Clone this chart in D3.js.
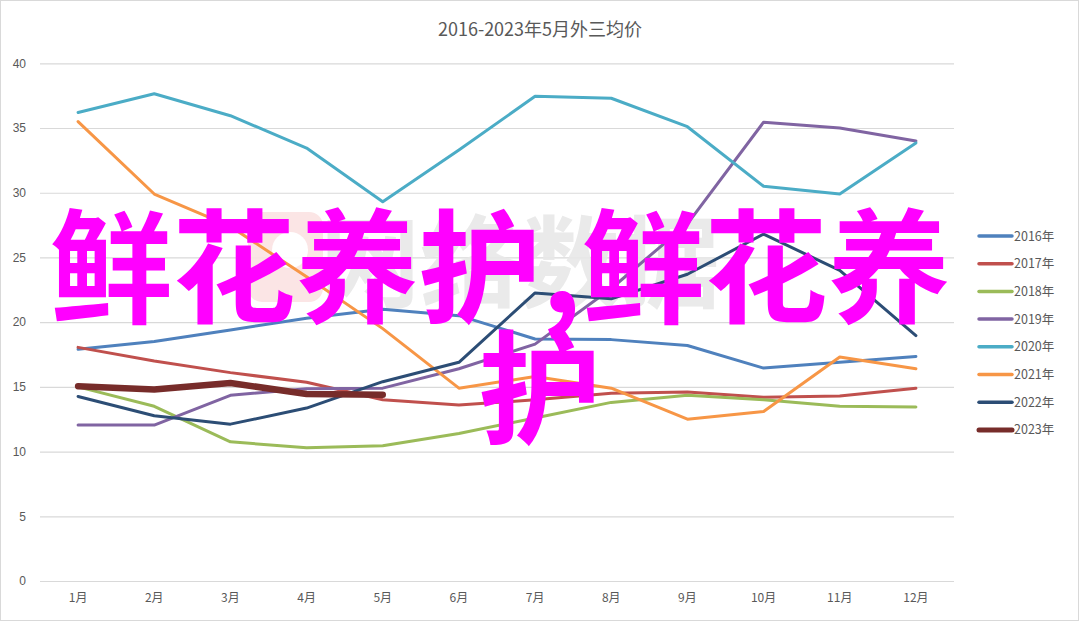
<!DOCTYPE html>
<html><head><meta charset="utf-8">
<script src="https://cdn.jsdelivr.net/npm/d3@7"></script>
<style>html,body{margin:0;padding:0;background:#fff;}svg{display:block;}</style>
</head><body>
<svg id="c" width="1080" height="622"></svg>
<script>
const title = "2016-2023年5月外三均价";
const months = ["1月","2月","3月","4月","5月","6月","7月","8月","9月","10月","11月","12月"];
const yTicks = [0,5,10,15,20,25,30,35,40];
const seriesNames = ["2016年","2017年","2018年","2019年","2020年","2021年","2022年","2023年"];
const colors = ["#4F81BD","#C0504D","#9BBB59","#8064A2","#4BACC6","#F79646","#2C4D75","#772C2A"];
const v2016 = [17.9,18.5,19.4,20.3,21.0,20.5,18.7,18.65,18.2,16.45,16.9,17.35];
const v2017 = [18.05,17.0,16.1,15.35,14.0,13.6,14.0,14.5,14.6,14.2,14.3,14.9];
const v2018 = [15.0,13.5,10.75,10.3,10.45,11.4,12.6,13.8,14.35,14.0,13.5,13.45];
const v2019 = [12.05,12.05,14.35,14.85,14.9,16.4,18.3,22.6,27.6,35.45,35.0,34.0];
const v2020 = [36.2,37.65,35.95,33.45,29.3,33.3,37.45,37.3,35.1,30.5,29.9,33.85];
const v2021 = [35.5,29.9,27.4,23.5,19.5,14.9,15.8,14.9,12.5,13.1,17.3,16.4];
const v2022 = [14.26,12.77,12.12,13.36,15.4,16.9,22.26,21.8,23.7,26.8,24.0,18.96];
const v2023 = [15.05,14.8,15.3,14.45,14.4];
const overlayLines = ["鲜花养护,鲜花养","护"];
const watermark = "网络数据";

const allSeries = [v2016,v2017,v2018,v2019,v2020,v2021,v2022,v2023];
const svg = d3.select("#c");
const font = "'Noto Sans CJK SC','Liberation Sans',sans-serif";

svg.append("rect").attr("x",0.5).attr("y",0.5).attr("width",1078).attr("height",620)
  .attr("fill","#fff").attr("stroke","#d9d9d9");

const x = d3.scaleBand().domain(months).range([40,954]);
const y = d3.scaleLinear().domain([0,40]).range([581,63.3]);

svg.append("text").attr("x",540).attr("y",36).attr("text-anchor","middle")
  .attr("font-family",font).attr("font-size",18).attr("fill","#595959").text(title);

// gridlines
const yAxis = d3.axisLeft(y).tickValues(yTicks).tickSize(-(954-40)).tickPadding(14);
const gy = svg.append("g").attr("transform","translate(40,0)").call(yAxis);
gy.select(".domain").remove();
gy.selectAll(".tick line").attr("stroke","#d9d9d9").attr("stroke-width",1.2);
gy.selectAll(".tick text").attr("font-family","'Liberation Sans',sans-serif").attr("font-size",12).attr("fill","#595959");

const xAxis = d3.axisBottom(x).tickSize(0).tickPadding(12);
const gx = svg.append("g").attr("transform","translate(0,581)").call(xAxis);
gx.select(".domain").remove();
gx.selectAll(".tick text").attr("font-family",font).attr("font-size",12).attr("fill","#595959");

// watermark
const wm = svg.append("g").attr("opacity",0.9);
wm.append("rect").attr("x",248).attr("y",212).attr("width",75).attr("height",90).attr("rx",14)
  .attr("fill","#fbe3e3");
wm.append("circle").attr("cx",290).attr("cy",250).attr("r",18).attr("fill","#fff");
wm.append("text").attr("x",320).attr("y",300).attr("font-family",font).attr("font-weight",700)
  .attr("font-size",100).attr("fill","#e8e8e8").text(watermark);

const line = d3.line().x((d,i)=>x(months[i])+x.bandwidth()/2).y(d=>y(d));
allSeries.forEach((s,k)=>{
  svg.append("path").datum(s).attr("d",line).attr("fill","none")
    .attr("stroke",colors[k]).attr("stroke-width",k===7?6.5:3)
    .attr("stroke-linejoin","round").attr("stroke-linecap","round");
});

// legend
const lg = svg.append("g");
seriesNames.forEach((n,k)=>{
  const yy = 236 + k*27.7;
  lg.append("line").attr("x1",979).attr("x2",1012).attr("y1",yy).attr("y2",yy)
    .attr("stroke",colors[k]).attr("stroke-width",k===7?5:3.5).attr("stroke-linecap","round");
  lg.append("text").attr("x",1014).attr("y",yy+4.5).attr("font-family",font)
    .attr("font-size",12.5).attr("fill","#595959").text(n);
});

// overlay text
overlayLines.forEach((t,i)=>{
  svg.append("text").attr("x",500 + (i===1?40:0)).attr("y",313 + i*121).attr("text-anchor","middle")
    .attr("font-family",font).attr("font-weight",700).attr("font-size",123)
    .attr("fill","#FF00FF").text(t);
});
</script>
</body></html>
